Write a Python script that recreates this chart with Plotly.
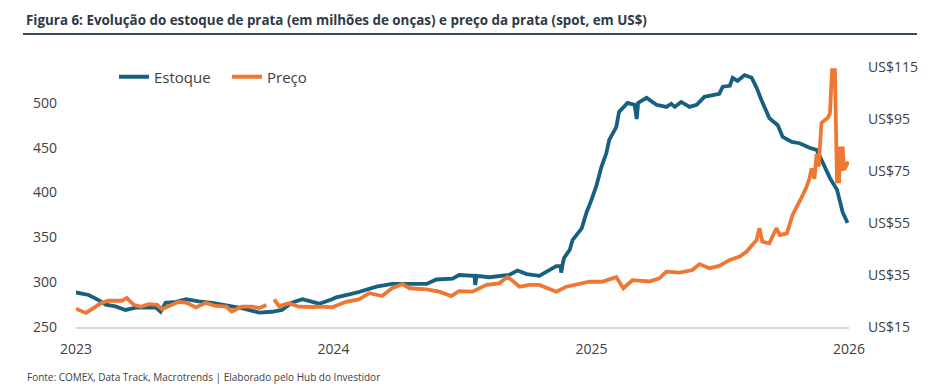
import plotly.graph_objects as go

# ---------------- data ----------------
estoque_dates = [
    "2023-01-01", "2023-01-19", "2023-02-02", "2023-02-12", "2023-02-26", "2023-03-12",
    "2023-03-27", "2023-04-14", "2023-04-24", "2023-05-01", "2023-05-08", "2023-05-23",
    "2023-06-06", "2023-06-24", "2023-07-13", "2023-08-02", "2023-08-24", "2023-09-18",
    "2023-10-06", "2023-10-20", "2023-11-03", "2023-11-18", "2023-12-12", "2023-12-30",
    "2024-01-05", "2024-01-19", "2024-02-06", "2024-03-02", "2024-03-24", "2024-04-18",
    "2024-05-12", "2024-05-26", "2024-06-18", "2024-06-27", "2024-07-16", "2024-07-19",
    "2024-07-20", "2024-07-22", "2024-08-09", "2024-09-06", "2024-09-18", "2024-10-01",
    "2024-10-19", "2024-10-29", "2024-11-12", "2024-11-18", "2024-11-19", "2024-11-21",
    "2024-11-23", "2024-12-01", "2024-12-05", "2024-12-18", "2024-12-25", "2025-01-01",
    "2025-01-08", "2025-01-15", "2025-01-22", "2025-01-26", "2025-02-05", "2025-02-09",
    "2025-02-21", "2025-03-03", "2025-03-06", "2025-03-08", "2025-03-20", "2025-04-03",
    "2025-04-17", "2025-04-24", "2025-04-29", "2025-05-08", "2025-05-20", "2025-05-30",
    "2025-06-10", "2025-07-01", "2025-07-06", "2025-07-16", "2025-07-20", "2025-07-27",
    "2025-08-06", "2025-08-16", "2025-08-23", "2025-08-30", "2025-09-06", "2025-09-10",
    "2025-09-22", "2025-09-29", "2025-10-12", "2025-10-23", "2025-11-06", "2025-11-16",
    "2025-11-25", "2025-12-05", "2025-12-15", "2025-12-23", "2025-12-30",
]
estoque_values = [
    288.5, 285.7, 280, 275, 273, 269,
    271.5, 271.5, 272, 267, 277, 278,
    281, 278.5, 277, 274, 271, 266,
    267, 269, 277, 281, 276, 281,
    283, 285.5, 289, 295, 298, 298,
    298, 303, 304, 308, 307, 307,
    297, 307, 305.5, 308, 313, 309,
    307, 312, 318, 318, 310.6, 320,
    327, 336, 347, 360, 378, 392,
    408, 428.6, 444, 458.7, 473, 490,
    500, 497.8, 482, 500, 505.6, 497.8,
    495.5, 499, 495.5, 501, 495.5, 497.8,
    506.7, 510, 518, 519, 528, 524.6,
    531, 528, 516.7, 503, 489, 483,
    475, 462, 456.5, 455, 450, 447.5,
    433, 416, 403, 378, 366,
]

preco_dates = [
    "2023-01-01", "2023-01-15", "2023-01-23", "2023-02-05", "2023-02-16", "2023-03-07",
    "2023-03-14", "2023-03-24", "2023-04-03", "2023-04-14", "2023-04-26", "2023-05-03",
    "2023-05-13", "2023-05-27", "2023-06-07", "2023-06-20", "2023-07-04", "2023-07-18",
    "2023-08-02", "2023-08-10", "2023-08-24", "2023-09-08", "2023-09-18", "2023-09-28",
    "2023-10-04", "2023-10-09", "2023-10-16", "2023-10-30", "2023-11-13", "2023-12-02",
    "2023-12-12", "2023-12-30", "2024-01-19", "2024-02-06", "2024-02-21", "2024-03-10",
    "2024-03-24", "2024-04-08", "2024-04-18", "2024-05-12", "2024-05-30", "2024-06-16",
    "2024-06-27", "2024-07-16", "2024-08-05", "2024-08-23", "2024-09-04", "2024-09-21",
    "2024-10-05", "2024-10-19", "2024-11-02", "2024-11-12", "2024-11-26", "2024-12-15",
    "2024-12-29", "2025-01-16", "2025-02-05", "2025-02-15", "2025-02-28", "2025-03-24",
    "2025-04-07", "2025-04-17", "2025-05-06", "2025-05-24", "2025-06-03", "2025-06-17",
    "2025-07-01", "2025-07-16", "2025-07-30", "2025-08-09", "2025-08-23", "2025-08-27",
    "2025-08-31", "2025-09-10", "2025-09-20", "2025-09-25", "2025-10-05", "2025-10-13",
    "2025-10-20", "2025-10-27", "2025-11-02", "2025-11-06", "2025-11-09", "2025-11-13",
    "2025-11-16", "2025-11-19", "2025-11-23", "2025-12-02", "2025-12-05", "2025-12-08",
    "2025-12-12", "2025-12-15", "2025-12-18", "2025-12-19", "2025-12-22", "2025-12-23",
    "2025-12-25", "2025-12-29", "2025-12-31",
]
preco_values = [
    22, 20.4, 21.8, 24.1, 25.1, 25.1,
    26.1, 23.5, 22.8, 23.8, 23.5, 21.8,
    23.1, 24.7, 24.3, 22.5, 24.3, 23.1,
    22.8, 21, 22.8, 22.8, 22.3, 23.5,
    None, 25.6, 23, 24.1, 22.8, 22.7,
    22.8, 22.6, 24.7, 25.6, 28, 26.9,
    29.9, 31.5, 29.9, 29.5, 28.6, 26.9,
    28.8, 28.6, 31.2, 31.8, 34.3, 30.5,
    31.2, 31.2, 29.5, 28.6, 30.5, 31.8,
    32.4, 32.4, 34.2, 29.9, 33, 32.5,
    33.7, 36.3, 35.9, 36.9, 39.2, 37.6,
    38.5, 40.8, 42.1, 44, 48.5, 53,
    47.8, 47.2, 53, 50.4, 51, 58.1,
    61.5, 65.5, 69, 72.2, 76, 72,
    81.5, 76.7, 93.5, 95.5, 97.2, 113.8,
    113.8, 71, 71, 84.4, 75, 84.4,
    75.4, 77.3, 78.6,
]

left_ticks = [250, 300, 350, 400, 450, 500]
right_ticks = [15, 35, 55, 75, 95, 115]
right_tick_labels = ["US$" + str(v) for v in right_ticks]
x_ticks = ["2023-01-01", "2024-01-01", "2025-01-01", "2026-01-01"]
x_tick_labels = ["2023", "2024", "2025", "2026"]

title_text = "Figura 6: Evolução do estoque de prata (em milhões de onças) e preço da prata (spot, em US$)"
source_text = "Fonte: COMEX, Data Track, Macrotrends | Elaborado pelo Hub do Investidor"

# ---------------- figure ----------------
BLUE = "#17607f"
ORANGE = "#ed7733"
TXT = "#404040"
FONT = "Open Sans"

fig = go.Figure()
fig.add_trace(go.Scatter(x=estoque_dates, y=estoque_values, name="Estoque", mode="lines",
                         line=dict(color=BLUE, width=3.8), yaxis="y", connectgaps=False))
fig.add_trace(go.Scatter(x=preco_dates, y=preco_values, name="Preço", mode="lines",
                         line=dict(color=ORANGE, width=3.8), yaxis="y2", connectgaps=False))

W, H = 941, 387
L, R, T, B = 76, 92, 67, 60
pw, ph = W - L - R, H - T - B

def px2paper_x(px):
    return (px - L) / pw

def px2paper_y(py):
    return (H - B - py) / ph

fig.update_layout(
    width=W, height=H,
    margin=dict(l=L, r=R, t=T, b=B),
    paper_bgcolor="white", plot_bgcolor="white",
    font=dict(family=FONT, size=14, color=TXT),
    hovermode=False,
    showlegend=True,
    legend=dict(orientation="h", x=px2paper_x(114), y=px2paper_y(77), xanchor="left", yanchor="middle",
                font=dict(size=15, color=TXT), bgcolor="rgba(0,0,0,0)", itemwidth=30,
                entrywidth=68, tracegroupgap=0),
    xaxis=dict(type="date", range=["2023-01-01", "2026-01-01"], tickvals=x_ticks, ticktext=x_tick_labels,
               showgrid=False, zeroline=False, showline=True, linecolor="#d9d9d9", linewidth=1.5,
               ticks="", ticklabelstandoff=8, tickfont=dict(size=14, color=TXT)),
    yaxis=dict(range=[250, 540], tickvals=left_ticks, showgrid=False, zeroline=False, showline=False,
               ticks="", ticklabelstandoff=18, tickfont=dict(size=14, color=TXT)),
    yaxis2=dict(range=[15, 115], tickvals=right_ticks, ticktext=right_tick_labels, overlaying="y",
                side="right", showgrid=False, zeroline=False, showline=False, ticks="",
                ticklabelstandoff=18, tickfont=dict(size=14, color=TXT)),
)

fig.add_annotation(text="<b>" + title_text + "</b>", xref="paper", yref="paper",
                   x=px2paper_x(24), y=px2paper_y(20), xanchor="left", yanchor="middle",
                   showarrow=False, font=dict(family=FONT, size=13.4, color="#2e3a46"))
fig.add_shape(type="line", xref="paper", yref="paper",
              x0=px2paper_x(23), x1=px2paper_x(917), y0=px2paper_y(34), y1=px2paper_y(34),
              line=dict(color="#3a4a58", width=2))
fig.add_annotation(text=source_text, xref="paper", yref="paper",
                   x=px2paper_x(25), y=px2paper_y(377), xanchor="left", yanchor="middle",
                   showarrow=False, font=dict(family=FONT, size=10, color=TXT))

fig.write_html("out.html", config={"displayModeBar": False},
               post_script="document.body.style.margin='0px';")
